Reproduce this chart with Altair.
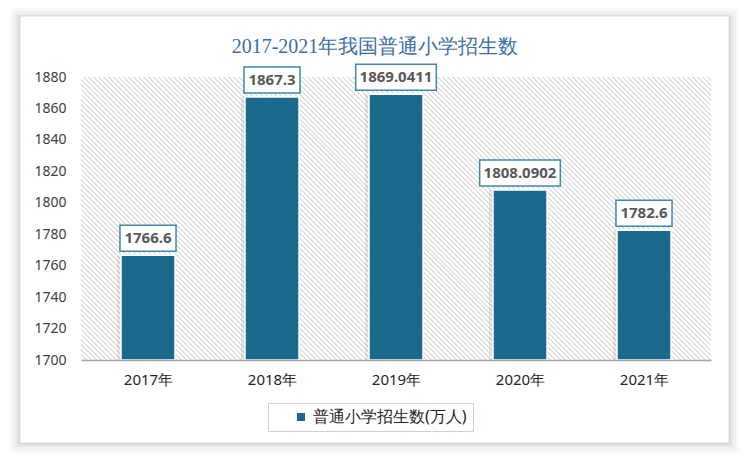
import altair as alt
import pandas as pd

# ---- data ----
years = ["2017年", "2018年", "2019年", "2020年", "2021年"]
values = [1766.6, 1867.3, 1869.0411, 1808.0902, 1782.6]
labels = ["1766.6", "1867.3", "1869.0411", "1808.0902", "1782.6"]
series_name = ["普通小学招生数(万人)"]
y_ticks = [1700, 1720, 1740, 1760, 1780, 1800, 1820, 1840, 1860, 1880]
title_text = ["2017-2021年我国普通小学招生数"]

# ---- layout / style ----
W, H = 630, 283
BLUE = "#1b6a8e"
BOX_BLUE = "#3f88aa"
TXT = "#595959"
YMIN, YMAX = y_ticks[0], y_ticks[-1]
n = len(years)
step = W / n

df = pd.DataFrame({
    "i": list(range(n)),
    "year": years,
    "value": values,
    "label": labels,
    "series": series_name * n,
})

# diagonal hatch as a striped linear gradient (objectBoundingBox units)
r = H / W
v = (1.0, -r)
vv = v[0] ** 2 + v[1] ** 2
s = (1 + r) / vv
x1, y1 = 0.0, 1.0
x2, y2 = x1 + s * v[0], y1 + s * v[1]
span = (W + H) / 2 ** 0.5
pitch = 5 / 2 ** 0.5
N = int(round(span / pitch))
frac = 0.4
LINE = "#e0e0e0"
stops = []
for k in range(N):
    a = k / N
    b = (k + frac) / N
    c = (k + 1) / N
    stops += [
        alt.GradientStop(offset=a, color=LINE),
        alt.GradientStop(offset=b, color=LINE),
        alt.GradientStop(offset=b, color="#ffffff"),
        alt.GradientStop(offset=c, color="#ffffff"),
    ]
hatch_fill = alt.LinearGradient(gradient="linear", stops=stops, x1=x1, y1=y1, x2=x2, y2=y2)

one = pd.DataFrame({"a": [0]})

xscale = alt.Scale(domain=[-0.5, n - 0.5], nice=False, zero=False)
yscale = alt.Scale(domain=[YMIN, YMAX], nice=False, zero=False)

label_expr = "[" + ",".join("'%s'" % y for y in years) + "][datum.value]"

X_AXIS = alt.Axis(values=list(range(n)), labelExpr=label_expr, title=None,
                  grid=False, ticks=False, domainColor="#a6a6a6", domainWidth=1.5,
                  labelFont="Noto Sans", labelFontSize=15, labelColor="#262626",
                  labelPadding=12, zindex=2)
Y_AXIS = alt.Axis(values=y_ticks, format="d", labelOverlap=False, title=None,
                  grid=False, ticks=False, domain=False,
                  labelFont="Noto Sans", labelFontSize=14, labelColor="#404040",
                  labelPadding=15, zindex=2)

# frame with soft shadow
FL, FR, FT, FB = -61, 648, -61, 366
shadows = []
for e, op in [(10, 0.025), (7, 0.03), (4, 0.04), (2, 0.05)]:
    shadows.append(
        alt.Chart(one).mark_rect(fill="#000000", opacity=op).encode(
            x=alt.value(FL - e), x2=alt.value(FR + e),
            y=alt.value(FT - e + 2), y2=alt.value(FB + e),
        )
    )
frame = alt.Chart(one).mark_rect(fill="#ffffff", stroke="#d9d9d9", strokeWidth=1).encode(
    x=alt.value(FL), x2=alt.value(FR), y=alt.value(FT), y2=alt.value(FB)
)

title = alt.Chart(pd.DataFrame({"t": title_text})).mark_text(
    font="Liberation Serif", fontSize=20, color="#3b6ea5", baseline="alphabetic",
    align="center", fontWeight=500
).encode(x=alt.value(294), y=alt.value(-24), text="t:N")

hatch = alt.Chart(one).mark_rect(fill=hatch_fill).encode(
    x=alt.value(0), x2=alt.value(W), y=alt.value(0), y2=alt.value(H)
)

base = alt.Chart(df)

# soft shadow on the left of each bar
bar_shadow = base.mark_bar(size=58, color="#000000", opacity=0.08, xOffset=-2).encode(
    x=alt.X("i:Q", scale=xscale, axis=X_AXIS),
    y=alt.Y("value:Q", scale=yscale, axis=Y_AXIS),
    y2=alt.datum(YMIN),
)

bars = base.mark_bar(size=54, stroke="#ffffff", strokeWidth=1.5).encode(
    x=alt.X("i:Q", scale=xscale, axis=X_AXIS),
    y=alt.Y("value:Q", scale=yscale, axis=Y_AXIS),
    y2=alt.datum(YMIN),
    color=alt.Color("series:N", scale=alt.Scale(range=[BLUE]),
                    legend=alt.Legend(title=None, orient="none", legendX=187, legendY=326,
                                      fillColor="#ffffff", strokeColor="#d0d0d0", padding=6,
                                      symbolType="square", symbolSize=64, symbolOffset=19,
                                      symbolStrokeWidth=0,
                                      labelFont="Noto Sans", labelFontSize=16,
                                      labelColor="#262626", labelLimit=400)),
)

boxes = base.transform_calculate(
    hw="(length(datum.label) * 8.33 + 7) / 2 / %f" % step
).transform_calculate(
    xl="datum.i - datum.hw", xr="datum.i + datum.hw"
).mark_rect(fill="#ffffff", stroke=BOX_BLUE, strokeWidth=1.5, yOffset=-4, y2Offset=-30).encode(
    x=alt.X("xl:Q", scale=xscale, axis=X_AXIS),
    x2="xr:Q",
    y=alt.Y("value:Q", scale=yscale, axis=Y_AXIS),
    y2="value:Q",
)

texts = base.mark_text(font="Noto Sans", fontSize=15, fontWeight="bold", color=TXT,
                       baseline="middle", dy=-17).encode(
    x=alt.X("i:Q", scale=xscale, axis=X_AXIS),
    y=alt.Y("value:Q", scale=yscale, axis=Y_AXIS),
    text="label:N",
)

chart = alt.layer(*shadows, frame, title, hatch, bar_shadow, bars, boxes, texts).properties(
    width=W, height=H,
    padding={"left": 81, "top": 77, "right": 39, "bottom": 101},
    autosize=alt.AutoSizeParams(type="none"),
    background="#ffffff",
).configure_view(stroke=None)

chart.save("out.html", embed_options={"renderer": "svg", "actions": False})
